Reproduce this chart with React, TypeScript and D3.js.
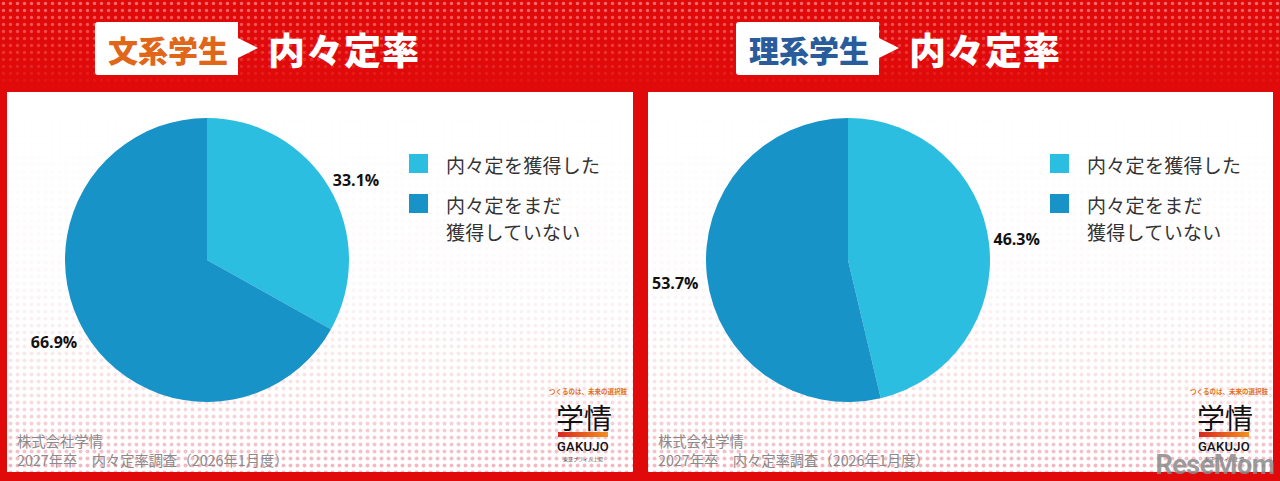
import React from "react";
import * as d3 from "d3";

const groups = ["文系学生", "理系学生"];
const groupColors = ["#E0661A", "#2A5C9C"];
const obtained = [33.1, 46.3];
const notYet = [66.9, 53.7];
const legendLabels = [["内々定を獲得した"], ["内々定をまだ", "獲得していない"]];
const sliceColors = ["#2BBEE0", "#1793C8"];
const titleSuffix = "内々定率";
const sourceLines = ["株式会社学情", "2027年卒　内々定率調査（2026年1月度）"];

const W = 1280;
const H = 481;
const JP = "'Noto Sans CJK JP', 'Noto Sans', sans-serif";

function Panel({ idx }: { idx: number }) {
  const x0 = idx === 0 ? 7 : 648;
  const pw = idx === 0 ? 626 : 625;
  const cx = x0 + 200;
  const cy = 260;
  const r = 142;
  const values = [obtained[idx], notYet[idx]];
  const pie = d3.pie<number>().sort(null).value((d) => d)(values);
  const arc = d3.arc<d3.PieArcDatum<number>>().innerRadius(0).outerRadius(r);
  const lblR = r * 1.06;
  const lx = x0 + 402;
  const titleBoxX = x0 + 88;
  return (
    <g>
      {/* title */}
      <path
        d={`M${titleBoxX + 3},22 H${titleBoxX + 143} V38 L${titleBoxX + 163},48 L${titleBoxX + 143},58 V75 H${titleBoxX + 3} Q${titleBoxX},75 ${titleBoxX},72 V25 Q${titleBoxX},22 ${titleBoxX + 3},22 Z`}
        fill="#fff"
      />
      <text
        x={titleBoxX + 73}
        y={49}
        textAnchor="middle"
        dominantBaseline="central"
        fontFamily={JP}
        fontWeight={900}
        fontSize={30}
        fill={groupColors[idx]}
      >
        {groups[idx]}
      </text>
      <text
        x={titleBoxX + 173}
        y={49}
        dominantBaseline="central"
        fontFamily={JP}
        fontWeight={900}
        fontSize={37}
        fill="#fff"
        letterSpacing={1}
      >
        {titleSuffix}
      </text>
      {/* panel */}
      <rect x={x0} y={92} width={pw} height={380} fill="#fff" />
      <rect x={x0} y={92} width={pw} height={380} fill="url(#pinkDots)" mask="url(#panelMask)" />
      {/* pie */}
      <g transform={`translate(${cx},${cy})`}>
        {pie.map((s, i) => (
          <path key={i} d={arc(s) as string} fill={sliceColors[i]} />
        ))}
        {pie.map((s, i) => {
          const a = (s.startAngle + s.endAngle) / 2;
          const px = Math.sin(a) * lblR;
          const py = -Math.cos(a) * lblR;
          const right = Math.sin(a) >= 0;
          return (
            <text
              key={"l" + i}
              x={px + (right ? -4 : 0)}
              y={py + (right ? -4 : 6)}
              textAnchor={right ? "start" : "end"}
              dominantBaseline="central"
              fontFamily="'Open Sans', 'Noto Sans', sans-serif"
              fontWeight={700}
              fontSize={16}
              fill="#111"
            >
              {values[i].toFixed(1)}%
            </text>
          );
        })}
      </g>
      {/* legend */}
      {legendLabels.map((lines, i) => (
        <g key={"lg" + i} transform={`translate(${lx},${i === 0 ? 154 : 194})`}>
          <rect x={0} y={0} width={19} height={19} fill={sliceColors[i]} />
          {lines.map((t, j) => (
            <text
              key={j}
              x={37}
              y={10 + j * 27}
              dominantBaseline="central"
              fontFamily={JP}
              fontSize={19}
              fill="#333"
              letterSpacing={0.3}
            >
              {t}
            </text>
          ))}
        </g>
      ))}
      {/* source */}
      {sourceLines.map((t, j) => (
        <text
          key={"s" + j}
          x={x0 + 10}
          y={440 + j * 19}
          dominantBaseline="central"
          fontFamily={JP}
          fontSize={14.3}
          fill="#8a8a8a"
        >
          {t}
        </text>
      ))}
      {/* logo */}
      <g transform={`translate(${x0 + 551},0)`}>
        <text x={30} y={391} textAnchor="middle" dominantBaseline="central" fontFamily={JP} fontSize={6.5} fill="#E07020" fontWeight={700}>
          つくるのは、未来の選択肢
        </text>
        <text x={26} y={417} textAnchor="middle" dominantBaseline="central" fontFamily={JP} fontSize={28} fill="#111" fontWeight={400}>
          学情
        </text>
        <rect x={0} y={432} width={50} height={5} fill="url(#barGrad)" />
        <text x={25} y={446} textAnchor="middle" dominantBaseline="central" fontFamily="'Roboto', 'Noto Sans', sans-serif" fontSize={13} fill="#111" fontWeight={500} letterSpacing={0.3}>
          GAKUJO
        </text>
        <text x={25} y={458} textAnchor="middle" dominantBaseline="central" fontFamily={JP} fontSize={5} fill="#555">
          東証プライム上場
        </text>
      </g>
    </g>
  );
}

export default function App() {
  return (
    <svg width={W} height={H} style={{ position: "absolute", left: 0, top: 0 }}>
      <defs>
        <pattern id="whiteDots" width={7} height={7} patternUnits="userSpaceOnUse">
          <circle cx={3.5} cy={3.5} r={1.7} fill="#ff9090" />
        </pattern>
        <pattern id="pinkDots" width={7} height={7} patternUnits="userSpaceOnUse">
          <circle cx={3.5} cy={3.5} r={2} fill="#f2b6c0" />
        </pattern>
        <linearGradient id="topFade" x1="0" y1="0" x2="0" y2="1">
          <stop offset="0" stopColor="#fff" stopOpacity={0.75} />
          <stop offset="1" stopColor="#fff" stopOpacity={0} />
        </linearGradient>
        <mask id="topMask">
          <rect x={0} y={0} width={W} height={90} fill="url(#topFade)" />
        </mask>
        <linearGradient id="bottomFade" x1="0" y1="0" x2="0" y2="1">
          <stop offset="0" stopColor="#fff" stopOpacity={0} />
          <stop offset="0.5" stopColor="#fff" stopOpacity={0.1} />
          <stop offset="0.8" stopColor="#fff" stopOpacity={0.45} />
          <stop offset="1" stopColor="#fff" stopOpacity={1} />
        </linearGradient>
        <mask id="panelMask">
          <rect x={0} y={92} width={W} height={380} fill="url(#bottomFade)" />
        </mask>
        <linearGradient id="barGrad" x1="0" y1="0" x2="1" y2="0">
          <stop offset="0" stopColor="#D8261E" />
          <stop offset="1" stopColor="#F0901E" />
        </linearGradient>
      </defs>
      <rect x={0} y={0} width={W} height={H} fill="#E10A0A" />
      <rect x={0} y={0} width={W} height={92} fill="url(#whiteDots)" mask="url(#topMask)" />
      {groups.map((_, i) => (
        <Panel key={i} idx={i} />
      ))}
      <text
        x={1215}
        y={465}
        textAnchor="middle"
        dominantBaseline="central"
        fontFamily="'Roboto', 'Noto Sans', sans-serif"
        fontWeight={700}
        fontSize={27}
        fill="#8a8a8a"
        fillOpacity={0.85}
        letterSpacing={-0.5}
      >
        ReseMom
      </text>
    </svg>
  );
}
